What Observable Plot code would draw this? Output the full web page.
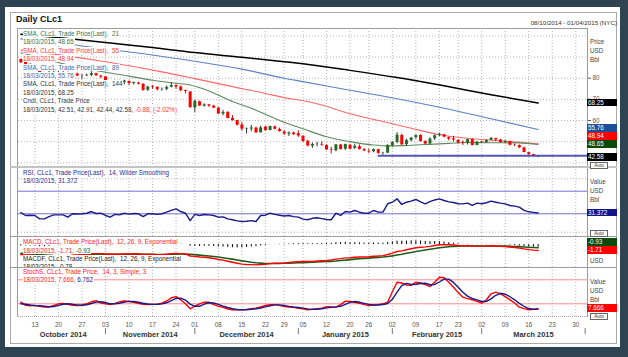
<!DOCTYPE html>
<html><head><meta charset="utf-8">
<script src="https://cdn.jsdelivr.net/npm/d3@7"></script>
<script src="https://cdn.jsdelivr.net/npm/@observablehq/plot@0.6"></script>
<style>
html,body{margin:0;padding:0;}
body{width:628px;height:357px;background:#2e4452;position:relative;overflow:hidden;font-family:"Liberation Sans",Arial,sans-serif;}
#card{position:absolute;left:5px;top:7px;width:615px;height:340px;background:#fff;}
#box{position:absolute;left:10px;top:12px;width:607px;height:332px;border:1px solid #a9a9a9;box-sizing:border-box;}
.t{position:absolute;white-space:pre;font-size:6.3px;line-height:7px;}
.lg{background:#fff;padding-right:1px;}
.vb{position:absolute;left:587px;width:30px;height:7.8px;color:#fff;font-size:6.3px;line-height:7.8px;padding-left:1px;box-sizing:border-box;}
.auto{position:absolute;left:590px;width:16px;height:5px;border:1px solid #666;font-size:4.6px;line-height:5px;color:#333;text-align:center;background:#fff;box-sizing:content-box;}
.hl{position:absolute;height:0;border-top:1px solid #9c9c9c;}
.vl{position:absolute;width:0;border-left:1px solid #9c9c9c;}
</style></head><body>
<div id="card"></div><div id="box"></div>
<script>
// ---------- data ----------
const dates = ["2014-10-08","2014-10-09","2014-10-10","2014-10-13","2014-10-14","2014-10-15","2014-10-16","2014-10-17","2014-10-20","2014-10-21","2014-10-22","2014-10-23","2014-10-24","2014-10-27","2014-10-28","2014-10-29","2014-10-30","2014-10-31",
"2014-11-03","2014-11-04","2014-11-05","2014-11-06","2014-11-07","2014-11-10","2014-11-11","2014-11-12","2014-11-13","2014-11-14","2014-11-17","2014-11-18","2014-11-19","2014-11-20","2014-11-21","2014-11-24","2014-11-25","2014-11-26","2014-11-28",
"2014-12-01","2014-12-02","2014-12-03","2014-12-04","2014-12-05","2014-12-08","2014-12-09","2014-12-10","2014-12-11","2014-12-12","2014-12-15","2014-12-16","2014-12-17","2014-12-18","2014-12-19","2014-12-22","2014-12-23","2014-12-24","2014-12-26","2014-12-29","2014-12-30","2014-12-31",
"2015-01-02","2015-01-05","2015-01-06","2015-01-07","2015-01-08","2015-01-09","2015-01-12","2015-01-13","2015-01-14","2015-01-15","2015-01-16","2015-01-20","2015-01-21","2015-01-22","2015-01-23","2015-01-26","2015-01-27","2015-01-28","2015-01-29","2015-01-30",
"2015-02-02","2015-02-03","2015-02-04","2015-02-05","2015-02-06","2015-02-09","2015-02-10","2015-02-11","2015-02-12","2015-02-13","2015-02-17","2015-02-18","2015-02-19","2015-02-20","2015-02-23","2015-02-24","2015-02-25","2015-02-26","2015-02-27",
"2015-03-02","2015-03-03","2015-03-04","2015-03-05","2015-03-06","2015-03-09","2015-03-10","2015-03-11","2015-03-12","2015-03-13","2015-03-16","2015-03-17","2015-03-18"];
const open = [88.85,87.53,85.70,85.59,85.70,81.75,81.30,82.72,82.71,82.54,82.60,80.60,81.98,80.93,81.09,81.36,82.16,81.04,
80.62,78.57,77.24,78.80,77.98,78.51,77.47,77.70,77.20,74.36,75.98,75.70,74.40,74.77,75.73,76.58,75.82,74.14,73.52,
65.95,68.84,66.77,67.40,66.80,65.82,63.07,63.85,61.03,60.00,57.84,55.70,55.96,56.40,54.20,56.93,55.30,57.00,55.73,54.53,53.57,54.11,
53.76,52.61,50.15,47.87,48.70,48.71,48.20,46.13,45.75,48.42,46.42,48.30,46.87,47.60,46.25,45.42,45.21,46.23,44.40,44.60,
47.99,49.68,52.93,48.60,50.50,51.90,52.93,50.03,48.96,51.35,52.95,53.33,51.90,51.30,50.61,49.66,49.20,50.99,48.16,
49.80,49.64,50.58,51.43,50.73,49.55,50.09,48.33,48.15,47.00,44.75,43.83,42.51];
const high = [89.05,87.60,86.92,86.02,85.85,82.12,83.42,83.90,83.39,83.71,82.98,82.32,82.44,81.74,81.90,82.90,82.38,81.25,
80.71,78.74,79.07,79.06,79.08,78.60,78.11,78.05,77.33,76.18,76.53,75.86,75.40,76.32,77.83,76.90,76.32,74.43,73.52,
69.69,69.14,67.90,67.59,67.17,66.17,64.79,64.14,62.31,60.10,59.01,56.45,57.68,56.85,57.34,57.20,57.39,57.39,56.40,55.28,54.62,54.52,
55.11,52.73,50.59,49.31,49.66,49.95,48.52,47.35,48.59,48.71,48.76,48.76,48.74,48.50,46.69,46.52,46.54,46.32,45.00,48.49,
50.00,54.24,53.54,51.21,52.00,53.20,53.25,50.49,51.84,53.22,54.05,53.35,52.20,52.51,50.88,50.40,51.05,51.28,50.05,
50.29,50.90,52.02,51.62,51.10,50.51,50.24,48.91,48.45,47.38,44.90,44.03,42.91];
const low = [86.98,84.63,83.59,84.26,80.89,79.78,80.01,81.96,81.67,81.71,80.28,80.22,80.75,79.44,80.74,80.69,80.80,79.78,
78.02,75.84,76.97,77.12,76.85,76.62,76.82,76.77,73.85,73.75,74.78,73.87,73.95,74.05,75.40,74.83,73.59,72.63,65.69,
63.72,66.62,66.32,66.20,65.69,62.92,62.26,60.79,59.68,57.34,55.05,53.60,54.66,54.01,54.08,54.82,55.12,55.60,54.51,52.90,52.44,52.93,
52.03,49.77,47.55,46.83,47.51,47.75,45.89,44.20,45.19,46.06,45.90,46.09,46.25,46.02,45.21,44.38,44.76,44.01,43.58,44.31,
47.35,49.02,48.40,47.74,49.89,51.12,49.75,48.59,48.48,50.54,52.38,51.87,50.36,49.96,48.86,48.22,48.40,48.01,48.07,
49.11,49.32,50.51,50.19,49.19,49.06,47.98,47.63,46.70,44.78,43.57,42.85,42.44];
const close = [87.31,85.77,85.82,85.74,81.84,81.78,82.70,82.75,82.71,82.49,80.52,82.09,81.01,81.00,81.42,82.20,81.12,80.54,
78.78,77.19,78.68,77.91,78.65,77.40,77.94,77.18,74.21,75.82,75.64,74.61,74.58,75.58,76.51,75.78,74.09,73.69,66.15,
69.00,66.88,67.38,66.81,65.84,63.05,63.82,60.94,59.95,57.81,55.91,55.93,56.47,54.11,56.52,55.26,57.12,55.84,54.73,53.61,54.12,53.27,
52.69,50.04,47.93,48.65,48.79,48.36,46.07,45.89,48.48,46.25,48.69,46.39,47.78,46.31,45.59,45.15,46.23,44.45,44.53,48.24,
49.57,53.05,48.45,50.48,51.69,52.86,50.02,48.84,51.21,52.78,53.53,52.14,51.16,50.81,49.45,49.17,50.99,48.17,49.76,
49.59,50.52,51.53,50.76,49.61,50.00,48.29,48.17,47.05,44.84,43.88,43.46,42.58];
// moving averages read at trading-day positions [day index, value]
const sma21 = [[0,92.0],[5,89.2],[10,86.2],[15,84.0],[18,82.8],[23,81.0],[28,79.0],[33,77.6],[36,76.8],[40,74.0],[45,69.0],[49,65.8],[52,63.0],[56,59.2],[60,56.1],[65,52.3],[70,50.0],[75,48.4],[78,48.0],[81,48.1],[85,48.5],[91,49.2],[95,49.6],[100,49.5],[106,49.4],[110,48.65]];
const sma55 = [[0,93.3],[7,91.4],[13,89.5],[18,87.8],[24,85.5],[30,83.0],[37,79.8],[45,76.0],[52,72.8],[56,70.8],[60,69.3],[63,67.9],[70,63.2],[77,59.5],[83,56.3],[89,53.3],[95,51.6],[102,50.4],[110,48.94]];
const sma89 = [[0,98.6],[10,96.2],[20,93.2],[28,91.0],[37,88.0],[47,84.3],[56,80.0],[60,78.4],[70,74.3],[80,70.3],[90,65.8],[100,60.8],[110,55.76]];
const sma144 = [[0,100.8],[10,98.8],[20,96.4],[28,94.5],[37,92.1],[47,89.9],[56,87.8],[60,86.8],[70,83.7],[80,80.3],[90,76.4],[100,72.2],[110,68.25]];
const supportLine = [{from: 76, to: 120.5, value: 43.3}];
const rsi = [32,27,27.5,27,21,21,25,28,28,28,24,30,29.5,30,31,34,30.5,31,
27,24,29,28,31,29.5,30.5,30,25,30,30,29,30,32.8,36,38.8,34,31,18,
29,27,28.8,28,27,24,24.5,21,19.4,17.5,16.4,16.8,18,16.4,27,27.5,31,29,27.5,26,27,25,
24,20.5,19.4,22,23,21.5,19.8,19.4,31,27,34,33,35.8,32.8,31,31,35.8,33,33,47.7,
50.5,56.5,46.5,50.5,52.5,55.3,51,47.7,51.5,54.5,56.5,53.5,51,50,47.7,47.5,48.8,44.7,48.8,
47.7,49.5,52.3,50.5,48.8,47.5,44.7,43.5,41.7,36,33.5,32.5,31.372];
const macd = [-2.9,-3.0,-3.1,-3.2,-3.5,-3.6,-3.6,-3.5,-3.4,-3.3,-3.3,-3.1,-3.0,-2.9,-2.8,-2.65,-2.6,-2.6,
-2.7,-2.8,-2.8,-2.8,-2.7,-2.7,-2.7,-2.7,-2.85,-2.85,-2.85,-2.9,-2.9,-2.8,-2.65,-2.55,-2.6,-2.7,-3.3,
-3.4,-3.6,-3.7,-3.8,-4.0,-4.3,-4.5,-4.8,-5.1,-5.4,-5.65,-5.75,-5.8,-5.85,-5.75,-5.7,-5.5,-5.4,-5.35,-5.3,-5.15,-5.05,
-4.95,-4.9,-4.9,-4.85,-4.75,-4.65,-4.6,-4.45,-4.2,-4.05,-3.85,-3.8,-3.65,-3.6,-3.6,-3.5,-3.35,-3.3,-3.2,-2.85,
-2.45,-2.0,-1.8,-1.5,-1.2,-0.9,-0.75,-0.65,-0.5,-0.25,-0.05,0.0,-0.05,-0.1,-0.25,-0.35,-0.3,-0.45,-0.45,
-0.45,-0.45,-0.35,-0.4,-0.5,-0.55,-0.7,-0.85,-1.0,-1.25,-1.45,-1.6,-1.71];
const signal = [-2.5,-2.6,-2.7,-2.8,-2.9,-3.0,-3.1,-3.2,-3.25,-3.25,-3.25,-3.2,-3.15,-3.1,-3.05,-2.95,-2.9,-2.85,
-2.8,-2.8,-2.8,-2.8,-2.8,-2.75,-2.75,-2.75,-2.8,-2.8,-2.8,-2.85,-2.85,-2.85,-2.8,-2.75,-2.7,-2.7,-2.8,
-2.9,-3.05,-3.2,-3.3,-3.45,-3.6,-3.8,-4.0,-4.2,-4.45,-4.7,-4.9,-5.1,-5.25,-5.35,-5.45,-5.45,-5.45,-5.45,-5.4,-5.35,-5.3,
-5.25,-5.2,-5.15,-5.1,-5.05,-4.95,-4.9,-4.85,-4.75,-4.6,-4.5,-4.35,-4.2,-4.1,-4.0,-3.9,-3.8,-3.7,-3.6,-3.45,
-3.25,-3.0,-2.8,-2.5,-2.3,-2.0,-1.8,-1.55,-1.35,-1.15,-0.9,-0.75,-0.6,-0.5,-0.45,-0.4,-0.4,-0.4,-0.4,
-0.4,-0.4,-0.4,-0.4,-0.42,-0.45,-0.5,-0.55,-0.6,-0.7,-0.78,-0.85,-0.93];
const stochK = [24,16,15,16,14,12,12,16,20,21,19,16,15.7,17,20,25,28,22,
20,18,21,25,27,26,24,21.5,19,18,18.5,19,21.5,27,35,38,30,20,7.5,
14,20,24,24,18,14,11,7,5,5,5,6,7.5,9,12,15.7,18,18,16,13,12,11,
9,7.5,5,6,7.5,9,13,12,11.5,18,26.7,26,24,21.5,18,15.7,17,18,20,24,
50,74,72,67,66,74,72,68,63,74,86.5,85,74,61.5,48,36.5,33,30,26,
21.5,30,45,49,45,38,30,22,11.5,8,5,6,7.666];
const stochD = [20,19,17,15.5,15,14,12.7,13.3,16,19,20,18.7,17,16.2,17.6,20.7,24.3,25,
23.3,20,19.7,21.3,24.3,26,25.7,23.8,21.5,19.5,18.5,18.5,19.7,22.5,27.8,33.3,34.3,29.3,19.2,
13.8,13.8,19.3,22.7,22,18.7,14.3,10.7,7.7,5.7,5,5.3,6.2,7.5,9.5,12.2,15.2,17.2,17.3,15.7,13.7,12,
10.7,9.2,7.2,6.2,6.2,7.5,9.8,11.3,12.2,13.8,18.7,23.6,25.6,23.8,21.2,18.4,16.9,16.9,18.3,20.7,
31.3,49.3,65.3,71,68.3,69,70.7,71.3,67.7,68.3,74.5,81.8,81.8,73.5,61.2,48.7,39.2,33.2,29.7,
25.8,25.8,32.2,41.3,46.3,44,37.7,30,21.2,13.8,8.2,6.3,6.762];
const tickIdx = [3,8,13,18,23,28,33,37,42,47,52,56,60,65,70,74,79,84,89,93,98,103,108,113,118];
const tickLabels = ["13","20","27","03","10","17","24","01","08","15","22","29","05","12","20","26","02","09","17","23","02","09","16","23","30"];
const monthNames = ["October 2014","November 2014","December 2014","January 2015","February 2015","March 2015"];
const monthMid = [9,27.5,48,69,88.5,109];
const monthSep = [18,37,59,79,98,120];
const priceTicks = [60,70,80];
const priceGrid = [40,50,60,70,80,90,100];

// ---------- helpers ----------
const UP = "#246b24", DN = "#ff0000";
const FONT = "Liberation Sans, Arial, sans-serif";
const XD = [-0.5, 120.5];
const candles = dates.map((d, i) => ({i, date: d, open: open[i], high: high[i], low: low[i], close: close[i]}));
const ups = candles.filter(d => d.close >= d.open), downs = candles.filter(d => d.close < d.open);
const ser = arr => arr.map((v, i) => ({i, v}));
const pts = arr => arr.map(([i, v]) => ({i, v}));
const vgrid = Plot.ruleX(tickIdx, {stroke: "#b5b5b5", strokeDasharray: "1,2"});

function panel(top, height, yDomain, marks, yOpts = {}) {
  const svg = Plot.plot({
    width: 628, height, marginLeft: 18, marginRight: 41, marginTop: 0, marginBottom: 0,
    x: {domain: XD, axis: null},
    y: {domain: yDomain, axis: null, ...yOpts},
    style: {background: "transparent", overflow: "visible", position: "absolute", left: "0px", top: top + "px",
            fontFamily: FONT, fontSize: "6.3px", color: "#555"},
    marks
  });
  document.body.appendChild(svg);
  return svg;
}
function el(cls, css, html) {
  const d = document.createElement("div");
  d.className = cls; d.style.cssText = css; if (html != null) d.innerHTML = html;
  document.body.appendChild(d); return d;
}

// ---------- price panel ----------
const P_TOP = 28, P_H = 138;
const price = panel(P_TOP, P_H, [38.25, 103.5], [
  Plot.ruleY(priceGrid, {stroke: "#b5b5b5", strokeDasharray: "1,2"}),
  vgrid,
  Plot.line(pts(sma144), {x: "i", y: "v", stroke: "#000", strokeWidth: 1.5, curve: "monotone-x"}),
  Plot.line(pts(sma89), {x: "i", y: "v", stroke: "#5b82c2", strokeWidth: 1.1, curve: "monotone-x"}),
  Plot.line(pts(sma55), {x: "i", y: "v", stroke: "#ff6868", strokeWidth: 1.1, curve: "monotone-x"}),
  Plot.line(pts(sma21), {x: "i", y: "v", stroke: "#5e8a5e", strokeWidth: 1.1, curve: "monotone-x"}),
  Plot.ruleY(supportLine, {x1: "from", x2: "to", y: "value", stroke: "#5454b4", strokeWidth: 2}),
  Plot.ruleX(ups, {x: "i", y1: "low", y2: "high", stroke: "#333"}),
  Plot.ruleX(downs, {x: "i", y1: "low", y2: "high", stroke: "#b01010"}),
  Plot.ruleX(ups, {x: "i", y1: "open", y2: "close", stroke: UP, strokeWidth: 3}),
  Plot.ruleX(downs, {x: "i", y1: "open", y2: "close", stroke: DN, strokeWidth: 3})
], {axis: "right", ticks: priceTicks, tickSize: 3, tickPadding: 2, label: null, tickFormat: d => d});

// ---------- RSI panel ----------
const R_TOP = 166, R_H = 70;
const rsiSvg = panel(R_TOP, R_H, [-10.2, 113.7], [
  Plot.ruleY([92, -2.6], {stroke: "#b5b5b5", strokeDasharray: "1,2"}),
  vgrid,
  Plot.ruleY([70, 30], {stroke: "#7272d2", strokeWidth: 1}),
  Plot.line(ser(rsi), {x: "i", y: "v", stroke: "#1a1a88", strokeWidth: 1.4})
]);

// ---------- MACD panel ----------
const M_TOP = 236, M_H = 31;
const macdRows = macd.map((m, i) => ({i, m, s: signal[i]}));
const macdSvg = panel(M_TOP, M_H, [-6.62, 2.34], [
  vgrid,
  Plot.ruleX(macdRows, {x: "i", y1: 0, y2: d => d.m - d.s, stroke: "#000", strokeWidth: 1}),
  Plot.line(macdRows, {x: "i", y: "s", stroke: "#1d5c1d", strokeWidth: 1.6}),
  Plot.line(macdRows, {x: "i", y: "m", stroke: "#ff0000", strokeWidth: 1.4})
]);

// ---------- Stochastic panel ----------
const S_TOP = 267, S_H = 50;
const stochSvg = panel(S_TOP, S_H, [-14.25, 110.75], [
  vgrid,
  Plot.ruleY([80, 20], {stroke: "#ff8c8c", strokeWidth: 1}),
  Plot.line(ser(stochK), {x: "i", y: "v", stroke: "#ff0000", strokeWidth: 1.4}),
  Plot.line(ser(stochD), {x: "i", y: "v", stroke: "#1a1a88", strokeWidth: 1.4})
]);

// ---------- x axis ----------
panel(317, 26, [0, 1], [
  Plot.text(tickIdx, {x: d => d, text: (d, i) => tickLabels[i], frameAnchor: "top", dy: 4.7, fill: "#555", fontSize: 6.3}),
  Plot.text(monthMid, {x: d => d, text: (d, i) => monthNames[i], frameAnchor: "top", dy: 13.8, fill: "#333", fontSize: 7.4, fontWeight: "bold"}),
  Plot.ruleX(monthSep, {stroke: "#777", insetTop: 11, insetBottom: 9})
]);

// ---------- frame lines ----------
el("hl", "left:17px;top:28px;width:570px;");
el("vl", "left:17px;top:28px;height:289px;");
el("vl", "left:587px;top:28px;height:289px;");
el("hl", "left:10px;top:165.5px;width:607px;border-top:2px solid #c4c4c4;");
el("hl", "left:10px;top:236px;width:607px;");
el("hl", "left:10px;top:267px;width:607px;");
el("hl", "left:17px;top:316px;width:570px;border-top:1px dotted #aaa;");

// ---------- titles ----------
el("t", "left:16px;top:13.5px;font-size:9px;line-height:11px;font-weight:bold;color:#111;", "Daily CLc1");
el("t", "right:11px;top:18.5px;font-size:6.2px;color:#333;", "08/10/2014 - 01/04/2015 (NYC)");

// ---------- legends ----------
const lastV = a => a[a.length - 1][1];
const mainLegend = [
  ["SMA, CLc1, Trade Price(Last),  21", "#3f713f"],
  ["18/03/2015, " + lastV(sma21).toFixed(2), "#3f713f"],
  ["SMA, CLc1, Trade Price(Last),  55", "#ff3838"],
  ["18/03/2015, " + lastV(sma55).toFixed(2), "#ff3838"],
  ["SMA, CLc1, Trade Price(Last),  89", "#3a66a8"],
  ["18/03/2015, " + lastV(sma89).toFixed(2), "#3a66a8"],
  ["SMA, CLc1, Trade Price(Last),  144", "#333"],
  ["18/03/2015, " + lastV(sma144).toFixed(2), "#333"],
  ["Cndl, CLc1, Trade Price", "#333"],
  ["18/03/2015, 42.51, 42.91, 42.44, 42.58, <span style='color:#ff3838'>-0.88, (-2.02%)</span>", "#333"]
];
mainLegend.forEach(([txt, c], k) => el("t lg", `left:23px;top:${29.9 + k * 8.42}px;color:${c};`, txt));
el("t lg", "left:23px;top:169.2px;color:#2b2b8c;", "RSI, CLc1, Trade Price(Last),  14, Wilder Smoothing");
el("t lg", "left:23px;top:177.2px;color:#2b2b8c;", "18/03/2015, 31.372");
const mBox = el("", "position:absolute;left:18px;top:237px;width:300px;height:30px;overflow:hidden;");
[["MACD, CLc1, Trade Price(Last),  12, 26, 9, Exponential", "#ff2020", 1.2],
 ["18/03/2015, -1.71, <span style='color:#1d5c1d'>-0.93</span>", "#ff2020", 9.6],
 ["MACDF, CLc1, Trade Price(Last),  12, 26, 9, Exponential", "#222", 18.3],
 ["18/03/2015, -0.78", "#222", 25.6]].forEach(([txt, c, t]) => {
  const d = document.createElement("div"); d.className = "t lg";
  d.style.cssText = `left:5px;top:${t}px;color:${c};`; d.innerHTML = txt; mBox.appendChild(d);
});
el("t lg", "left:23px;top:268.3px;color:#ff2020;", "StochS, CLc1, Trade Price,  14, 3, Simple, 3");
el("t lg", "left:23px;top:276px;color:#ff2020;", "18/03/2015, 7.666, <span style='color:#1a1a88'>6.762</span>");

// right-hand unit labels
[["Price",38.2],["USD",47],["Bbl",55.8],["Value",178.2],["USD",186.8],["Bbl",195.5],["USD",256.5],["Value",278.2],["USD",286.8],["Bbl",295.5]]
  .forEach(([s, y]) => el("t", `left:590px;top:${y}px;color:#444;`, s));

// value boxes (stacked upward when they collide)
function boxes(svg, top, items) {
  const ys = svg.scale("y");
  const arr = items.map(o => ({...o, y: top + ys.apply(o.v)})).sort((a, b) => b.y - a.y);
  for (let k = 1; k < arr.length; k++) arr[k].y = Math.min(arr[k].y, arr[k - 1].y - 8);
  arr.forEach(o => el("vb", `top:${o.y - 3.9}px;background:${o.bg};`, o.label));
  return arr;
}
const pb = boxes(price, P_TOP, [
  {v: lastV(sma144), label: "68.25", bg: "#000"},
  {v: lastV(sma89), label: "55.76", bg: "#1d4f98"},
  {v: lastV(sma55), label: "48.94", bg: "#ff0000"},
  {v: lastV(sma21), label: "48.65", bg: "#0c4a0c"},
  {v: close[close.length - 1], label: "42.58", bg: "#000"}
]);
el("auto", `top:${pb[0].y + 5}px;`, "Auto");
boxes(rsiSvg, R_TOP, [{v: rsi[rsi.length - 1], label: "31.372", bg: "#14148a"}]);
el("auto", "top:229.5px;", "Auto");
boxes(macdSvg, M_TOP, [{v: signal[signal.length - 1], label: "-0.93", bg: "#0c4a0c"}, {v: macd[macd.length - 1], label: "-1.71", bg: "#ff0000"}]);
const sb = boxes(stochSvg, S_TOP, [{v: stochK[stochK.length - 1], label: "7.666", bg: "#ff0000"}]);
el("auto", `top:${sb[0].y + 4.5}px;`, "Auto");
</script></body></html>
